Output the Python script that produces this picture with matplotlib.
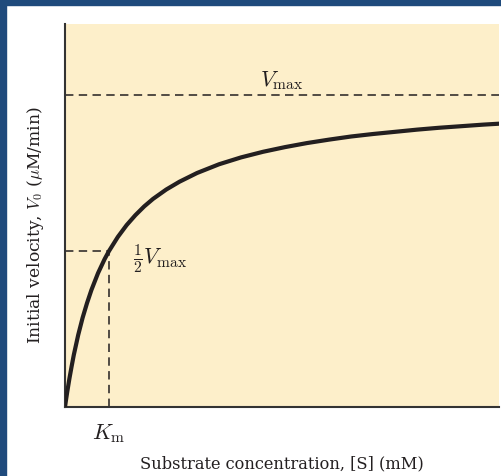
import matplotlib.pyplot as plt
from matplotlib.patches import Rectangle

# Michaelis-Menten curve (Km = 1 mM, Vmax = 1)
KM = 1.0
VMAX = 1.0
substrate = [0, 0.02, 0.05, 0.1, 0.15, 0.2, 0.3, 0.4, 0.5, 0.6, 0.75, 0.9, 1.0,
             1.2, 1.4, 1.6, 1.8, 2.0, 2.3, 2.6, 3.0, 3.5, 4.0, 4.5, 5.0, 5.5,
             6.0, 6.5, 7.0, 7.5, 8.0, 8.5, 9.0, 9.5, 9.86]
velocity = [0, 0.020, 0.048, 0.091, 0.130, 0.167, 0.231, 0.286, 0.333, 0.375,
            0.429, 0.474, 0.5, 0.545, 0.583, 0.615, 0.643, 0.667, 0.697, 0.722,
            0.75, 0.778, 0.8, 0.818, 0.833, 0.846, 0.857, 0.867, 0.875, 0.882,
            0.889, 0.895, 0.9, 0.905, 0.908]

plt.rcParams['mathtext.fontset'] = 'cm'
plt.rcParams['font.family'] = 'DejaVu Serif'

fig = plt.figure(figsize=(5.02, 4.77), dpi=100)
ax = fig.add_axes([0.1295, 0.1447, 0.8645, 0.8029])

# dark blue frame along top and left edges
fig.patches.append(Rectangle((0, 1 - 6 / 477), 1, 6 / 477, transform=fig.transFigure,
                             color='#1f4a7c', zorder=0))
fig.patches.append(Rectangle((0, 0), 6 / 502, 1, transform=fig.transFigure,
                             color='#1f4a7c', zorder=0))

ax.set_facecolor('#fdefca')
ax.plot(substrate, velocity, color='#231f20', linewidth=3, solid_joinstyle='round', zorder=3)

# reference lines
dash = (0, (5.5, 3.5))
ax.axhline(VMAX, color='#231f20', linestyle=dash, linewidth=1.1)
ax.plot([0, KM], [VMAX / 2, VMAX / 2], color='#231f20', linestyle=dash, linewidth=1.1)
ax.plot([KM, KM], [0, VMAX / 2], color='#231f20', linestyle=dash, linewidth=1.1)

ax.text(4.93, 1.05, r'$V_{\rm max}$', fontsize=16, ha='center', va='center', color='#231f20')
ax.text(1.55, 0.48, r'$\frac{1}{2}V_{\rm max}$', fontsize=16, ha='left', va='center', color='#231f20')

ax.set_xlim(0, 9.86)
ax.set_ylim(0, 1.2276)
ax.set_xticks([KM])
ax.set_xticklabels([r'$K_{\rm m}$'], fontsize=16, color='#231f20')
ax.set_yticks([])
ax.tick_params(axis='x', length=0, pad=10)

for side in ['top', 'right']:
    ax.spines[side].set_visible(False)
for side in ['left', 'bottom']:
    ax.spines[side].set_color('#333333')
    ax.spines[side].set_linewidth(1.5)

ax.set_xlabel(r'Substrate concentration, [S] (mM)', fontsize=11.7, color='#231f20', labelpad=8)
ax.set_ylabel(r'Initial velocity, $V_0$ ($\mu$M/min)', fontsize=12.3, color='#231f20')
ax.yaxis.set_label_coords(-0.044, 0.478)

plt.savefig('out.png', dpi=100)
